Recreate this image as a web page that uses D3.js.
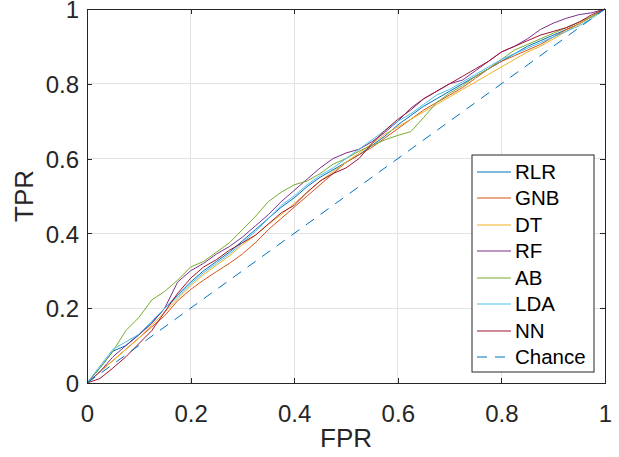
<!DOCTYPE html>
<html>
<head>
<meta charset="utf-8">
<style>
  body { margin: 0; background: #fff; }
  svg { display: block; font-family: "Liberation Sans", Arial, Helvetica, sans-serif; }
  .grid line { stroke: #e3e3e3; stroke-width: 1; shape-rendering: crispEdges; }
  .axis path, .axis line { stroke: #262626; shape-rendering: crispEdges; }
  .axis text { fill: #262626; font-size: 24px; font-family: "Liberation Sans", Arial, sans-serif; }
  .curve { fill: none; stroke-width: 1; }
</style>
</head>
<body>
<svg width="619" height="457"></svg>
<script src="https://d3js.org/d3.v7.min.js"></script>
<script>
// shared FPR grid (0 .. 1 in steps of 0.025)
var fpr = [0, 0.025, 0.05, 0.075, 0.1, 0.125, 0.15, 0.175, 0.2, 0.225, 0.25, 0.275, 0.3, 0.325, 0.35, 0.375, 0.4, 0.425, 0.45, 0.475,
           0.5, 0.525, 0.55, 0.575, 0.6, 0.625, 0.65, 0.675, 0.7, 0.725, 0.75, 0.775, 0.8, 0.825, 0.85, 0.875, 0.9, 0.925, 0.95, 0.975, 1];

// TPR values for each classifier
var tprRLR = [0, 0.04, 0.085, 0.1, 0.13, 0.16, 0.2, 0.235, 0.27, 0.3, 0.325, 0.35, 0.38, 0.41, 0.44, 0.47, 0.495, 0.525, 0.55, 0.57,
              0.59, 0.61, 0.635, 0.66, 0.69, 0.715, 0.74, 0.76, 0.78, 0.8, 0.82, 0.84, 0.86, 0.88, 0.9, 0.915, 0.93, 0.945, 0.96, 0.98, 1];
var tprGNB = [0, 0.03, 0.06, 0.09, 0.12, 0.15, 0.18, 0.22, 0.25, 0.275, 0.298, 0.32, 0.345, 0.375, 0.41, 0.44, 0.47, 0.5, 0.53, 0.56,
              0.59, 0.61, 0.63, 0.655, 0.68, 0.705, 0.73, 0.75, 0.77, 0.79, 0.815, 0.84, 0.86, 0.875, 0.89, 0.905, 0.925, 0.945, 0.96, 0.98, 1];
var tprDT  = [0, 0.03, 0.06, 0.09, 0.12, 0.155, 0.19, 0.225, 0.26, 0.29, 0.315, 0.34, 0.37, 0.395, 0.425, 0.45, 0.48, 0.51, 0.54, 0.565,
              0.59, 0.615, 0.64, 0.665, 0.685, 0.705, 0.725, 0.745, 0.765, 0.785, 0.805, 0.825, 0.845, 0.865, 0.885, 0.9, 0.92, 0.94, 0.96, 0.98, 1];
var tprRF  = [0, 0.03, 0.07, 0.1, 0.128, 0.16, 0.2, 0.27, 0.3, 0.32, 0.345, 0.365, 0.39, 0.42, 0.45, 0.485, 0.515, 0.545, 0.575, 0.6,
              0.615, 0.625, 0.645, 0.67, 0.7, 0.735, 0.76, 0.78, 0.8, 0.81, 0.835, 0.86, 0.885, 0.9, 0.92, 0.945, 0.962, 0.975, 0.985, 0.99, 1];
var tprAB  = [0, 0.04, 0.085, 0.14, 0.175, 0.222, 0.245, 0.275, 0.31, 0.325, 0.35, 0.375, 0.41, 0.445, 0.485, 0.51, 0.53, 0.54, 0.56, 0.585,
              0.6, 0.62, 0.635, 0.65, 0.662, 0.672, 0.71, 0.75, 0.775, 0.795, 0.82, 0.84, 0.865, 0.89, 0.905, 0.92, 0.935, 0.95, 0.965, 0.98, 1];
var tprLDA = [0, 0.045, 0.09, 0.11, 0.13, 0.165, 0.2, 0.23, 0.265, 0.295, 0.32, 0.345, 0.375, 0.405, 0.44, 0.475, 0.5, 0.53, 0.555, 0.575,
              0.6, 0.625, 0.65, 0.675, 0.7, 0.72, 0.745, 0.77, 0.785, 0.805, 0.825, 0.845, 0.865, 0.88, 0.895, 0.91, 0.925, 0.94, 0.955, 0.975, 1];
var tprNN  = [0, 0.012, 0.04, 0.07, 0.105, 0.14, 0.19, 0.24, 0.28, 0.31, 0.33, 0.355, 0.375, 0.395, 0.425, 0.455, 0.475, 0.51, 0.54, 0.56,
              0.575, 0.6, 0.64, 0.675, 0.705, 0.73, 0.76, 0.78, 0.8, 0.82, 0.84, 0.86, 0.885, 0.9, 0.915, 0.93, 0.94, 0.95, 0.965, 0.985, 1];
var chanceX = [0, 1];
var chanceY = [0, 1];

var names  = ["RLR", "GNB", "DT", "RF", "AB", "LDA", "NN"];
var seriesTpr = [tprRLR, tprGNB, tprDT, tprRF, tprAB, tprLDA, tprNN];
var colors = ["#0072BD", "#D95319", "#EDB120", "#7E2F8E", "#77AC30", "#4DBEEE", "#A2142F"];
var ticks  = [0, 0.2, 0.4, 0.6, 0.8, 1];
var tickLabels = ["0", "0.2", "0.4", "0.6", "0.8", "1"];

(function() {
  var svg = d3.select("svg"),
      margin = {top: 9, right: 14, bottom: 74, left: 87},
      width = +svg.attr("width") - margin.left - margin.right,
      height = +svg.attr("height") - margin.top - margin.bottom,
      g = svg.append("g").attr("transform", "translate(" + margin.left + "," + margin.top + ")");

  var x = d3.scaleLinear().domain([0, 1]).range([0, width]);
  var y = d3.scaleLinear().domain([0, 1]).range([height, 0]);
  var fmt = function(d, i) { return tickLabels[i]; };

  // grid
  g.append("g").attr("class", "grid")
    .selectAll("line.v").data(ticks).enter().append("line")
      .attr("x1", function(d) { return x(d); }).attr("x2", function(d) { return x(d); })
      .attr("y1", 0).attr("y2", height);
  g.append("g").attr("class", "grid")
    .selectAll("line.h").data(ticks).enter().append("line")
      .attr("y1", function(d) { return y(d); }).attr("y2", function(d) { return y(d); })
      .attr("x1", 0).attr("x2", width);

  // curves
  var line = d3.line()
    .x(function(d) { return x(d[0]); })
    .y(function(d) { return y(d[1]); });

  seriesTpr.forEach(function(t, i) {
    g.append("path")
      .datum(fpr.map(function(f, j) { return [f, t[j]]; }))
      .attr("class", "curve")
      .attr("stroke", colors[i])
      .attr("d", line);
  });

  g.append("path")
    .datum(chanceX.map(function(f, j) { return [f, chanceY[j]]; }))
    .attr("class", "curve")
    .attr("stroke", "#0072BD")
    .attr("stroke-dasharray", "10,8")
    .attr("d", line);

  // axes (ticks pointing inward, mirrored on top/right)
  g.append("g").attr("class", "axis")
    .attr("transform", "translate(0," + height + ")")
    .call(d3.axisBottom(x).tickValues(ticks).tickFormat(fmt).tickSizeInner(-5).tickSizeOuter(0).tickPadding(20));
  g.append("g").attr("class", "axis")
    .call(d3.axisLeft(y).tickValues(ticks).tickFormat(fmt).tickSizeInner(-5).tickSizeOuter(0).tickPadding(8));
  g.append("g").attr("class", "axis")
    .call(d3.axisTop(x).tickValues(ticks).tickFormat("").tickSizeInner(-5).tickSizeOuter(0));
  g.append("g").attr("class", "axis")
    .attr("transform", "translate(" + width + ",0)")
    .call(d3.axisRight(y).tickValues(ticks).tickFormat("").tickSizeInner(-5).tickSizeOuter(0));

  g.selectAll(".axis text").attr("dy", null);
  g.selectAll(".axis").filter(function(d, i) { return i === 0; })
    .selectAll("text").attr("y", 39);
  g.selectAll(".axis").filter(function(d, i) { return i === 1; })
    .selectAll("text").attr("dy", "0.36em");

  // axis labels
  svg.append("text")
    .attr("x", margin.left + width / 2)
    .attr("y", 447)
    .attr("text-anchor", "middle")
    .attr("fill", "#262626")
    .attr("font-size", 26)
    .text("FPR");
  svg.append("text")
    .attr("transform", "translate(33," + (margin.top + height / 2) + ") rotate(-90)")
    .attr("text-anchor", "middle")
    .attr("fill", "#262626")
    .attr("font-size", 26)
    .text("TPR");

  // legend
  var legendNames = names.concat(["Chance"]);
  var legendColors = colors.concat(["#0072BD"]);
  var legend = svg.append("g").attr("transform", "translate(472,155)");
  legend.append("rect")
    .attr("width", 122).attr("height", 217)
    .attr("fill", "#fff").attr("stroke", "#262626").attr("stroke-width", 1);

  var item = legend.selectAll("g.item")
    .data(legendNames)
    .enter().append("g")
      .attr("class", "item")
      .attr("transform", function(d, i) { return "translate(0," + Math.round(16.5 + i * 26.5) + ")"; });

  item.append("line")
    .attr("x1", 5).attr("x2", 39)
    .attr("stroke", function(d, i) { return legendColors[i]; })
    .attr("stroke-width", 1.2)
    .attr("stroke-dasharray", function(d) { return d === "Chance" ? "10,8" : null; });

  item.append("text")
    .attr("x", 43)
    .attr("dy", "0.36em")
    .attr("fill", "#000")
    .attr("font-size", 20.5)
    .text(function(d) { return d; });
})();
</script>
</body>
</html>
